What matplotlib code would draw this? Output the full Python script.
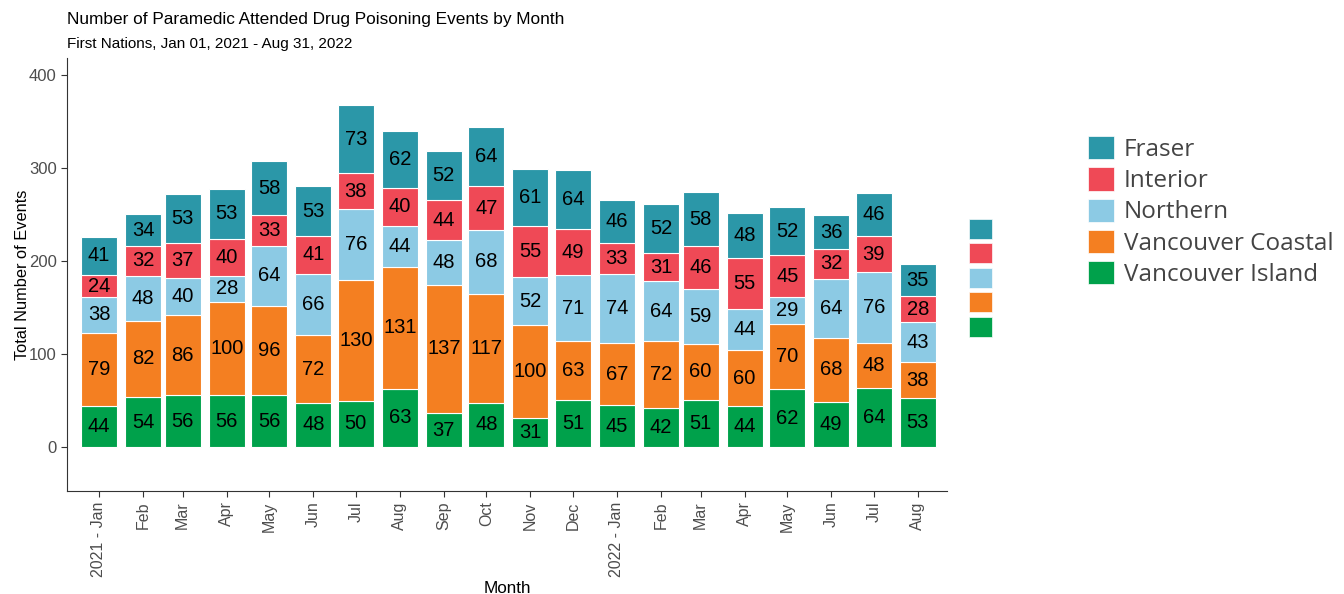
import matplotlib
matplotlib.use('Agg')
import matplotlib.pyplot as plt
import matplotlib.dates as mdates
from matplotlib.patches import Patch
import numpy as np
import pandas as pd

months = pd.date_range('2021-01-01', '2022-08-01', freq='MS')
tick_labels = ['2021 - Jan', 'Feb', 'Mar', 'Apr', 'May', 'Jun', 'Jul', 'Aug', 'Sep', 'Oct',
               'Nov', 'Dec', '2022 - Jan', 'Feb', 'Mar', 'Apr', 'May', 'Jun', 'Jul', 'Aug']

# 从下往上堆叠
regions = ['Vancouver Island', 'Vancouver Coastal', 'Northern', 'Interior', 'Fraser']
vancouver_island = [44, 54, 56, 56, 56, 48, 50, 63, 37, 48, 31, 51, 45, 42, 51, 44, 62, 49, 64, 53]
vancouver_coastal = [79, 82, 86, 100, 96, 72, 130, 131, 137, 117, 100, 63, 67, 72, 60, 60, 70, 68, 48, 38]
northern = [38, 48, 40, 28, 64, 66, 76, 44, 48, 68, 52, 71, 74, 64, 59, 44, 29, 64, 76, 43]
interior = [24, 32, 37, 40, 33, 41, 38, 40, 44, 47, 55, 49, 33, 31, 46, 55, 45, 32, 39, 28]
fraser = [41, 34, 53, 53, 58, 53, 73, 62, 52, 64, 61, 64, 46, 52, 58, 48, 52, 36, 46, 35]

colors = {'Fraser': '#2b97a8', 'Interior': '#ef4956', 'Northern': '#8ccae4',
          'Vancouver Coastal': '#f47f21', 'Vancouver Island': '#00a14b'}

series = [vancouver_island, vancouver_coastal, northern, interior, fraser]

fig = plt.figure(figsize=(13.44, 5.94), dpi=100)
ax = fig.add_axes([0.0499, 0.1734, 0.6547, 0.729])

x = mdates.date2num(months)
bottom = np.zeros(len(months))
for name, vals in zip(regions, series):
    vals = np.array(vals)
    ax.bar(x, vals, width=25.5, bottom=bottom, color=colors[name],
           edgecolor='white', linewidth=0.8)
    for xi, b, v in zip(x, bottom, vals):
        ax.text(xi, b + v / 2, str(v), ha='center', va='center', fontsize=14.5,
                family='Liberation Sans', color='black')
    bottom += vals

ax.set_ylim(-47, 418)
ax.set_xlim(x[0] - 22.5, x[0] + 597.6)
ax.set_yticks([0, 100, 200, 300, 400])
ax.set_xticks(x)
ax.set_xticklabels(tick_labels, rotation=90, family='Liberation Sans', fontsize=11.5, color='#4d4d4d')
for lab in ax.get_yticklabels():
    lab.set_family('Liberation Sans')
    lab.set_fontsize(12)
    lab.set_color('#4d4d4d')
ax.tick_params(length=4, color='#333333', width=0.8)
ax.spines['top'].set_visible(False)
ax.spines['right'].set_visible(False)
ax.spines['left'].set_color('#333333')
ax.spines['bottom'].set_color('#333333')

ax.set_xlabel('Month', family='Liberation Sans', fontsize=12.3, labelpad=3)
ax.set_ylabel('Total Number of Events', family='Liberation Sans', fontsize=11.8, labelpad=-1)

fig.text(0.0499, 0.968, 'Number of Paramedic Attended Drug Poisoning Events by Month',
         family='Liberation Sans', fontsize=12.4, va='center')
fig.text(0.0499, 0.926, 'First Nations, Jan 01, 2021 - Aug 31, 2022',
         family='Liberation Sans', fontsize=11, va='center')

order = ['Fraser', 'Interior', 'Northern', 'Vancouver Coastal', 'Vancouver Island']
handles = [Patch(facecolor=colors[n], edgecolor='white', linewidth=0.5) for n in order]

# 小图例（无文字）
leg1 = fig.legend(handles, [''] * 5, loc='upper left', bbox_to_anchor=(969 / 1344, 1 - 219 / 594),
                  frameon=False, fontsize=16, handlelength=1.05, handleheight=1.0,
                  labelspacing=0.13, handletextpad=0, borderpad=0, borderaxespad=0)
# 大图例
leg2 = fig.legend(handles, order, loc='upper left', bbox_to_anchor=(1088 / 1344, 1 - 136 / 594),
                  frameon=False, prop={'family': 'Open Sans', 'size': 17.5}, handlelength=1.08,
                  handleheight=1.1, labelspacing=0.22, handletextpad=0.4, borderpad=0,
                  borderaxespad=0)
for t in leg2.get_texts():
    t.set_color('#444444')
fig.add_artist(leg1)

fig.savefig('out.png', dpi=100)
